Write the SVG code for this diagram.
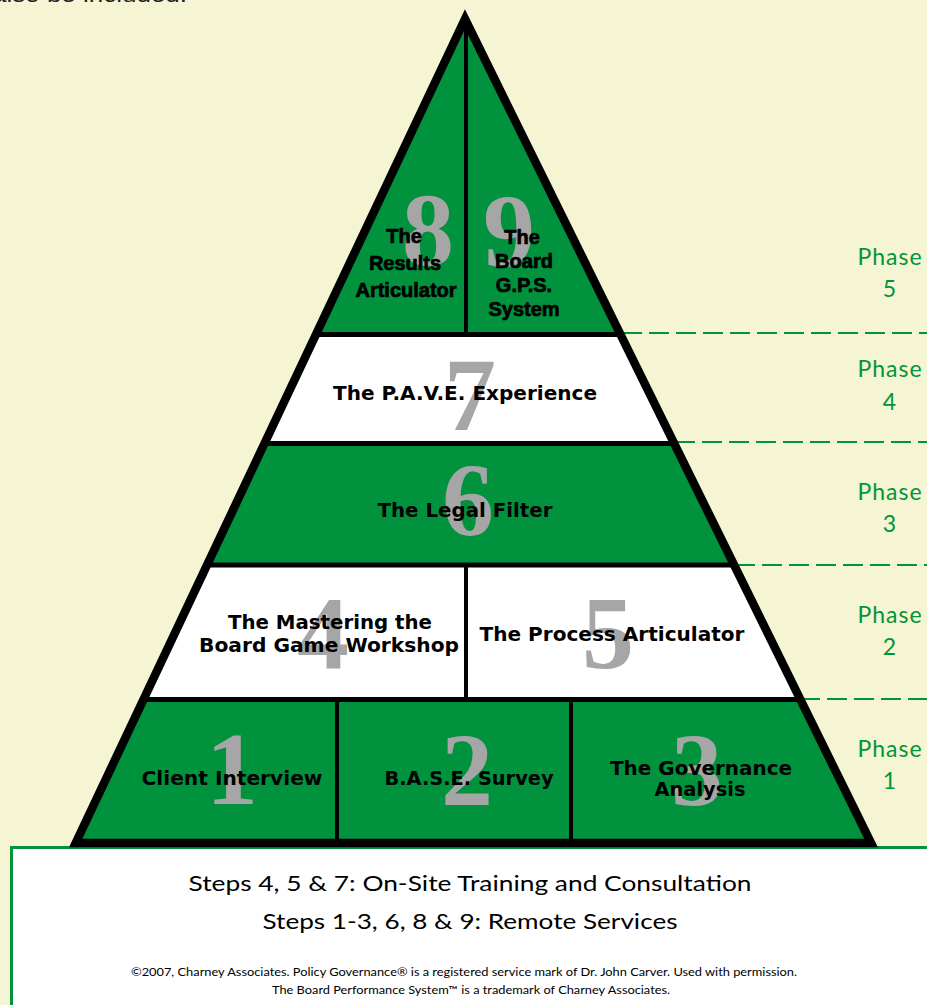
<svg xmlns="http://www.w3.org/2000/svg" width="927" height="1005" viewBox="0 0 927 1005">
<style>
.lbl{font-family:"DejaVu Sans","Liberation Sans",sans-serif;font-weight:bold;font-size:19.5px;fill:#000;text-anchor:middle}
.sm{font-family:"Liberation Sans","DejaVu Sans",sans-serif;font-size:20px;stroke:#000;stroke-width:0.7}
.num{font-family:"Liberation Serif","DejaVu Serif",serif;font-weight:bold;font-size:104px;fill:#A6A6A6;text-anchor:middle}
.ph{font-family:"Lato","Liberation Sans",sans-serif;font-size:23px;fill:#00953A;text-anchor:middle;letter-spacing:1px}
.steps{font-family:"Lato","Liberation Sans",sans-serif;font-size:22px;fill:#000;text-anchor:middle}
.fn{font-family:"Lato","Liberation Sans",sans-serif;font-size:11px;fill:#000;text-anchor:middle}
.grn{fill:#00923D}
.wht{fill:#FFFFFF}
.dash{stroke:#00953A;stroke-width:2.2;stroke-dasharray:20 7;fill:none}
.blk{stroke:#000;fill:none}
</style>
<rect x="0" y="0" width="927" height="1005" fill="#F5F4D3"/>
<text x="-8" y="2" font-family="Liberation Sans, sans-serif" font-size="22" fill="#222" textLength="195" lengthAdjust="spacingAndGlyphs">also be included.</text>

<g id="footer-box">
<rect x="11.5" y="847.5" width="930" height="170" fill="#FFFFFF" stroke="#00953A" stroke-width="3"/>
<text class="steps" x="470" y="891" textLength="563" lengthAdjust="spacingAndGlyphs">Steps 4, 5 &amp; 7: On-Site Training and Consultation</text>
<text class="steps" x="470" y="929" textLength="415" lengthAdjust="spacingAndGlyphs">Steps 1-3, 6, 8 &amp; 9: Remote Services</text>
<text class="fn" x="464" y="976" textLength="666" lengthAdjust="spacingAndGlyphs">©2007, Charney Associates.  Policy Governance® is a registered service mark of Dr. John Carver.   Used with permission.</text>
<text class="fn" x="471" y="994" textLength="398" lengthAdjust="spacingAndGlyphs">The Board Performance System™ is a trademark of Charney Associates.</text>
</g>

<g id="connectors">
<line class="dash" x1="622" y1="333" x2="927" y2="333"/>
<line class="dash" x1="675" y1="442" x2="927" y2="442"/>
<line class="dash" x1="735" y1="565" x2="927" y2="565"/>
<line class="dash" x1="800" y1="699" x2="927" y2="699"/>
</g>

<g id="phase5"><text class="ph" x="890" y="265">Phase</text><text class="ph" x="890" y="297">5</text></g>
<g id="phase4"><text class="ph" x="890" y="377">Phase</text><text class="ph" x="890" y="410">4</text></g>
<g id="phase3"><text class="ph" x="890" y="500">Phase</text><text class="ph" x="890" y="532">3</text></g>
<g id="phase2"><text class="ph" x="890" y="623">Phase</text><text class="ph" x="890" y="655">2</text></g>
<g id="phase1"><text class="ph" x="890" y="757">Phase</text><text class="ph" x="890" y="789">1</text></g>

<g id="step8">
<polygon class="grn" points="465,19 465,335 315.7,335"/>
<text class="num" x="428" y="265">8</text>
<text class="lbl sm"><tspan x="404" y="243">The</tspan><tspan x="405" y="270">Results</tspan><tspan x="406" y="297">Articulator</tspan></text>
</g>
<g id="step9">
<polygon class="grn" points="465,19 620.8,335 465,335"/>
<text class="num" x="509" y="266">9</text>
<text class="lbl sm"><tspan x="522" y="244">The</tspan><tspan x="524" y="268">Board</tspan><tspan x="524" y="292">G.P.S.</tspan><tspan x="524" y="316">System</tspan></text>
</g>
<g id="step7">
<polygon class="wht" points="315.7,335 620.8,335 673.5,443 265.2,443"/>
<text class="num" x="470" y="430">7</text>
<text class="lbl" x="465" y="400" textLength="264" lengthAdjust="spacingAndGlyphs">The P.A.V.E. Experience</text>
</g>
<g id="step6">
<polygon class="grn" points="265.2,443 673.5,443 734.1,565 207.1,565"/>
<text class="num" x="468" y="535">6</text>
<text class="lbl" x="465" y="517" textLength="175" lengthAdjust="spacingAndGlyphs">The Legal Filter</text>
</g>
<g id="step4">
<polygon class="wht" points="207.1,565 466,565 466,700 143.3,700"/>
<text class="num" x="323" y="668">4</text>
<text class="lbl" x="330" y="629" textLength="204" lengthAdjust="spacingAndGlyphs">The Mastering the</text>
<text class="lbl" x="329" y="652" textLength="260" lengthAdjust="spacingAndGlyphs">Board Game Workshop</text>
</g>
<g id="step5">
<polygon class="wht" points="466,565 734.1,565 800.6,700 466,700"/>
<text class="num" x="608" y="668">5</text>
<text class="lbl" x="612" y="641" textLength="265" lengthAdjust="spacingAndGlyphs">The Process Articulator</text>
</g>
<g id="step1">
<polygon class="grn" points="143.3,700 337,700 337,843 75.7,843"/>
<text class="num" x="232" y="804">1</text>
<text class="lbl" x="232" y="785" textLength="181" lengthAdjust="spacingAndGlyphs">Client Interview</text>
</g>
<g id="step2">
<polygon class="grn" points="337,700 571,700 571,843 337,843"/>
<text class="num" x="467" y="805">2</text>
<text class="lbl" x="469" y="785" textLength="169" lengthAdjust="spacingAndGlyphs">B.A.S.E. Survey</text>
</g>
<g id="step3">
<polygon class="grn" points="571,700 800.6,700 871.1,843 571,843"/>
<text class="num" x="697" y="805">3</text>
<text class="lbl" x="701" y="775" textLength="182" lengthAdjust="spacingAndGlyphs">The Governance</text>
<text class="lbl" x="700" y="796" textLength="91" lengthAdjust="spacingAndGlyphs">Analysis</text>
</g>

<g id="pyramid-lines">
<line class="blk" stroke-width="4" x1="466" y1="19" x2="466" y2="335"/>
<line class="blk" stroke-width="4" x1="466" y1="565" x2="466" y2="700"/>
<line class="blk" stroke-width="4" x1="337" y1="700" x2="337" y2="843"/>
<line class="blk" stroke-width="4" x1="571" y1="700" x2="571" y2="843"/>
<line class="blk" stroke-width="5" x1="316" y1="334.5" x2="620.5" y2="334.5"/>
<line class="blk" stroke-width="5" x1="264.5" y1="443.5" x2="674.2" y2="443.5"/>
<line class="blk" stroke-width="5" x1="207.1" y1="565" x2="734.1" y2="565"/>
<line class="blk" stroke-width="5" x1="143.5" y1="699.5" x2="800.4" y2="699.5"/>
<polygon class="blk" stroke-width="8.5" stroke-miterlimit="12" points="465,19 871.1,843 75.7,843"/>
</g>
</svg>
